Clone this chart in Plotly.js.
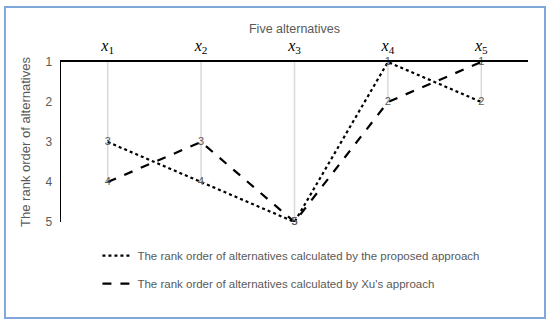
<!DOCTYPE html>
<html>
<head>
<meta charset="utf-8">
<script src="https://cdn.plot.ly/plotly-3.0.1.min.js"></script>
<style>html,body{margin:0;padding:0;background:#fff;}#chart{width:550px;height:327px;}</style>
</head>
<body>
<div id="chart"></div>
<script>
const categories = ["x1", "x2", "x3", "x4", "x5"];
const tickLabels = ["<i>x</i><sub>1</sub>", "<i>x</i><sub>2</sub>", "<i>x</i><sub>3</sub>", "<i>x</i><sub>4</sub>", "<i>x</i><sub>5</sub>"];
const proposedRank = [3, 4, 5, 1, 2];
const xuRank = [4, 3, 5, 2, 1];
const seriesNames = [
  "The rank order of alternatives calculated by the proposed approach",
  "The rank order of alternatives calculated by Xu's approach"
];

const gray = "#595959";
const font = "Liberation Sans, Arial, sans-serif";

// drop lines from the category axis (rank 1) down to the lower point
const dropX = [], dropY = [];
categories.forEach((c, i) => {
  dropX.push(c, c, null);
  dropY.push(1, Math.max(proposedRank[i], xuRank[i]), null);
});

const traces = [
  {x: dropX, y: dropY, mode: "lines", line: {color: "#d9d9d9", width: 1.5},
   showlegend: false, hoverinfo: "skip"},
  {x: categories, y: proposedRank, name: seriesNames[0], mode: "lines+text",
   text: proposedRank.map(String), textposition: "middle center",
   textfont: {color: gray, size: 11, family: font}, cliponaxis: false,
   line: {color: "#000", width: 2.2, dash: "dot"}, legendgroup: "a"},
  {x: categories, y: xuRank, name: seriesNames[1], mode: "lines+text",
   text: xuRank.map(String), textposition: "middle center",
   textfont: {color: gray, size: 11, family: font}, cliponaxis: false,
   line: {color: "#000", width: 2.2, dash: "dash"}, legendgroup: "b"}
];

const layout = {
  width: 550, height: 327,
  margin: {l: 61, r: 22, t: 62, b: 105},
  paper_bgcolor: "#fff", plot_bgcolor: "#fff",
  font: {family: font, color: gray, size: 12},
  showlegend: true,
  legend: {x: 0.078, y: -0.12, xanchor: "left", yanchor: "top",
           font: {size: 11.5, color: gray, family: font},
           traceorder: "grouped", tracegroupgap: 9, itemwidth: 30,
           bgcolor: "rgba(0,0,0,0)"},
  xaxis: {
    type: "category", side: "top", range: [-0.5, 4.5],
    tickvals: categories, ticktext: tickLabels,
    tickfont: {family: "Liberation Serif, Times New Roman, serif", size: 16, color: "#000"},
    showline: true, linecolor: "#000", linewidth: 2, showgrid: false, zeroline: false,
    ticks: "", ticklen: 0, ticklabelstandoff: 3,
    title: {text: "Five alternatives", font: {size: 12.5, color: gray, family: font}, standoff: 0}
  },
  yaxis: {
    range: [5, 1], tickvals: [1, 2, 3, 4, 5],
    showline: true, linecolor: "#000", linewidth: 1.5, showgrid: false, zeroline: false,
    ticks: "", tickfont: {size: 12, color: gray, family: font}, ticklabelstandoff: 5,
    title: {text: "The rank order of alternatives", font: {size: 13, color: gray, family: font}, standoff: 12}
  },
  shapes: [{type: "rect", xref: "paper", yref: "paper",
            x0: -0.12, x1: 1.0364, y0: -0.6, y1: 1.344,
            line: {color: "#7fa7d9", width: 2}, fillcolor: "rgba(0,0,0,0)", layer: "below"}]
};

Plotly.newPlot("chart", traces, layout, {displayModeBar: false, staticPlot: true});
</script>
</body>
</html>
